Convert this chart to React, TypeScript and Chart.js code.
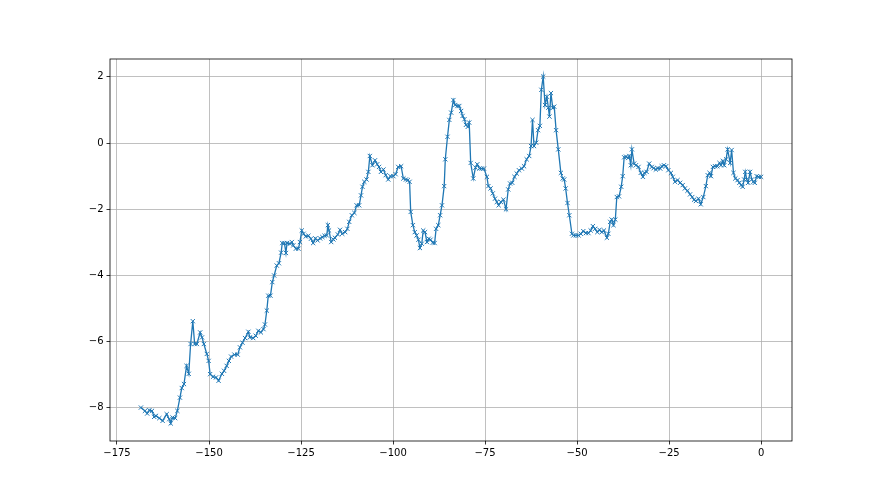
import React, { useEffect, useRef } from "react";
import { Chart, registerables } from "chart.js";

Chart.register(...registerables);

const xValues: number[] = [
  -168.5, -167.4, -166.8, -166.2, -165.5, -164.9, -164.4, -163.5, -162.6, -161.5,
  -160.8, -160.4, -159.9, -159.2, -158.6, -157.9, -157.4, -156.8, -156.1, -155.5,
  -155.0, -154.4, -153.9, -153.3, -152.4, -151.9, -151.4, -150.6, -150.1, -149.7,
  -148.9, -148.1, -147.4, -146.5, -145.9, -145.2, -144.6, -144.0, -143.1, -142.2,
  -141.6, -140.9, -140.2, -139.3, -138.9, -138.0, -137.3, -136.6, -135.9, -135.2,
  -134.8, -134.3, -133.9, -133.3, -132.8, -132.3, -131.6, -131.0, -130.4, -130.1,
  -129.5, -129.1, -128.8, -128.0, -127.5, -127.1, -126.4, -125.7, -125.3, -124.8,
  -124.3, -123.7, -123.0, -122.3, -121.7, -121.1, -120.5, -119.8, -119.2, -118.6,
  -118.0, -117.7, -117.4, -116.8, -116.2, -115.8, -115.0, -114.4, -113.8, -113.0,
  -112.4, -111.9, -111.2, -110.5, -109.9, -109.2, -108.7, -108.3, -107.8, -107.2,
  -106.7, -106.3, -105.6, -104.9, -104.3, -103.8, -103.3, -102.6, -102.0, -101.3,
  -100.7, -99.9, -99.3, -98.6, -97.8, -97.2, -96.5, -96.0, -95.5, -95.2,
  -94.6, -94.1, -93.6, -93.1, -92.7, -92.2, -91.8, -91.3, -90.8, -90.3,
  -89.8, -89.2, -88.7, -88.3, -87.7, -87.2, -86.7, -86.1, -85.8, -85.2,
  -84.7, -84.2, -83.6, -83.1, -82.5, -82.0, -81.5, -81.1, -80.6, -80.2,
  -79.7, -79.3, -78.9, -78.2, -77.6, -77.1, -76.5, -75.9, -75.3, -74.5,
  -74.1, -73.5, -72.9, -72.3, -71.8, -71.3, -70.7, -70.0, -69.3, -68.7,
  -68.2, -67.6, -67.0, -66.4, -65.8, -65.0, -64.4, -63.7, -63.0, -62.5,
  -62.1, -61.7, -61.1, -60.6, -60.1, -59.7, -59.2, -58.7, -58.2, -57.8,
  -57.5, -57.1, -56.6, -56.2, -55.7, -55.1, -54.4, -53.9, -53.5, -53.1,
  -52.6, -52.1, -51.4, -51.0, -50.3, -49.6, -49.0, -48.3, -47.6, -46.9,
  -46.3, -45.7, -45.1, -44.5, -43.9, -43.3, -42.7, -41.9, -41.5, -41.0,
  -40.6, -40.1, -39.6, -39.2, -38.6, -38.0, -37.6, -37.2, -36.7, -36.1,
  -35.8, -35.4, -35.1, -34.5, -34.0, -33.3, -32.7, -32.1, -31.7, -31.1,
  -30.4, -29.7, -29.2, -28.6, -28.1, -27.4, -27.0, -26.4, -25.8, -25.2,
  -24.5, -24.0, -23.4, -22.7, -22.0, -21.3, -20.7, -20.0, -19.3, -18.7,
  -18.2, -17.7, -17.0, -16.4, -15.7, -15.0, -14.5, -14.0, -13.6, -13.1,
  -12.5, -11.9, -11.3, -10.9, -10.4, -10.0, -9.5, -9.1, -8.4, -8.0,
  -7.5, -7.0, -6.4, -5.9, -5.4, -5.0, -4.6, -4.3, -3.9, -3.5,
  -3.0, -2.5, -2.1, -1.7, -1.2, -0.6, 0.0,
];

const yValues: number[] = [
  -7.99, -8.09, -8.17, -8.07, -8.09, -8.27, -8.24, -8.31, -8.39, -8.19,
  -8.34, -8.47, -8.29, -8.31, -8.09, -7.69, -7.40, -7.28, -6.73, -6.97,
  -6.07, -5.38, -6.07, -6.07, -5.72, -5.87, -6.07, -6.37, -6.58, -6.98,
  -7.06, -7.08, -7.18, -6.97, -6.88, -6.73, -6.58, -6.45, -6.39, -6.39,
  -6.17, -6.03, -5.89, -5.70, -5.87, -5.89, -5.82, -5.67, -5.72, -5.62,
  -5.48, -5.06, -4.61, -4.61, -4.20, -4.00, -3.70, -3.63, -3.31, -3.02,
  -3.02, -3.32, -3.02, -3.04, -2.99, -3.09, -3.19, -3.19, -2.99, -2.64,
  -2.74, -2.82, -2.80, -2.89, -3.02, -2.88, -2.94, -2.88, -2.84, -2.80,
  -2.79, -2.48, -2.64, -2.99, -2.91, -2.86, -2.76, -2.62, -2.74, -2.69,
  -2.59, -2.38, -2.18, -2.11, -1.88, -1.88, -1.58, -1.32, -1.17, -1.10,
  -0.87, -0.39, -0.67, -0.52, -0.64, -0.72, -0.87, -0.80, -0.97, -1.10,
  -1.00, -1.00, -0.94, -0.72, -0.70, -1.07, -1.10, -1.12, -1.17, -2.08,
  -2.48, -2.69, -2.79, -2.92, -3.17, -3.04, -2.64, -2.69, -2.99, -2.89,
  -2.92, -3.01, -3.02, -2.59, -2.48, -2.18, -1.88, -1.30, -0.49, 0.19,
  0.70, 0.92, 1.30, 1.15, 1.12, 1.12, 0.97, 0.82, 0.72, 0.55,
  0.49, 0.62, -0.60, -1.07, -0.74, -0.64, -0.77, -0.77, -0.77, -1.02,
  -1.30, -1.37, -1.52, -1.68, -1.78, -1.88, -1.78, -1.71, -2.00, -1.40,
  -1.22, -1.20, -1.02, -0.92, -0.82, -0.77, -0.70, -0.49, -0.39, -0.09,
  0.70, -0.09, 0.01, 0.39, 0.52, 1.61, 2.01, 1.15, 1.40, 1.07,
  0.80, 1.51, 1.06, 1.10, 0.39, -0.19, -0.90, -1.07, -1.10, -1.37,
  -1.81, -2.18, -2.74, -2.79, -2.79, -2.79, -2.74, -2.66, -2.72, -2.72,
  -2.64, -2.51, -2.59, -2.69, -2.62, -2.69, -2.64, -2.86, -2.74, -2.38,
  -2.31, -2.48, -2.31, -1.63, -1.61, -1.32, -1.00, -0.43, -0.41, -0.45,
  -0.39, -0.67, -0.19, -0.62, -0.67, -0.72, -0.90, -1.02, -0.90, -0.87,
  -0.62, -0.72, -0.76, -0.80, -0.76, -0.77, -0.70, -0.67, -0.70, -0.82,
  -0.90, -1.02, -1.17, -1.12, -1.20, -1.27, -1.37, -1.44, -1.55, -1.63,
  -1.71, -1.75, -1.68, -1.85, -1.63, -1.30, -0.97, -0.90, -1.00, -0.72,
  -0.70, -0.70, -0.60, -0.67, -0.54, -0.67, -0.49, -0.19, -0.60, -0.21,
  -0.90, -1.07, -1.12, -1.20, -1.27, -1.32, -1.10, -0.87, -1.10, -1.20,
  -0.87, -1.10, -1.17, -1.20, -1.00, -1.02, -1.02,
];

const xTicks: number[] = [-175, -150, -125, -100, -75, -50, -25, 0];
const yTicks: number[] = [-8, -6, -4, -2, 0, 2];

const fmt = (v: number) => (v < 0 ? "\u2212" + Math.abs(v) : String(v));

const framePlugin = {
  id: "frame",
  afterDraw(chart: any) {
    const { ctx, chartArea } = chart;
    ctx.save();
    ctx.strokeStyle = "#000";
    ctx.lineWidth = 0.8;
    ctx.strokeRect(
      chartArea.left,
      chartArea.top,
      chartArea.right - chartArea.left,
      chartArea.bottom - chartArea.top
    );
    ctx.restore();
  },
};

export default function App() {
  const ref = useRef<HTMLCanvasElement | null>(null);

  useEffect(() => {
    if (!ref.current) return;
    const data = xValues.map((x, i) => ({ x, y: yValues[i] }));
    const font = { family: "DejaVu Sans", size: 10 };
    const chart = new Chart(ref.current, {
      type: "line",
      data: {
        datasets: [
          {
            data,
            borderColor: "#1f77b4",
            backgroundColor: "#1f77b4",
            borderWidth: 1.3,
            tension: 0,
            fill: false,
            pointStyle: "crossRot",
            pointRadius: 3,
            pointBorderWidth: 1,
            pointBorderColor: "#1f77b4",
            pointHoverRadius: 3,
          },
        ],
      },
      options: {
        responsive: false,
        animation: false,
        events: [],
        layout: { padding: { left: 0, top: 59, right: 88, bottom: 0 } },
        plugins: { legend: { display: false }, tooltip: { enabled: false } },
        scales: {
          x: {
            type: "linear",
            min: -176.9,
            max: 8.4,
            afterBuildTicks: (scale: any) => {
              scale.ticks = xTicks.map((v) => ({ value: v }));
            },
            afterFit: (scale: any) => {
              scale.height = 54;
            },
            ticks: {
              font,
              color: "#000",
              padding: 3,
              maxRotation: 0,
              autoSkip: false,
              callback: (v: any) => fmt(Number(v)),
            },
            grid: {
              color: "#b0b0b0",
              lineWidth: 0.8,
              tickColor: "#000",
              tickLength: 3.5,
              tickWidth: 0.8,
            },
            border: { display: false },
          },
          y: {
            type: "linear",
            min: -9.0,
            max: 2.54,
            afterBuildTicks: (scale: any) => {
              scale.ticks = yTicks.map((v) => ({ value: v }));
            },
            afterFit: (scale: any) => {
              scale.width = 110;
            },
            ticks: {
              font,
              color: "#000",
              padding: 3,
              autoSkip: false,
              callback: (v: any) => fmt(Number(v)),
            },
            grid: {
              color: "#b0b0b0",
              lineWidth: 0.8,
              tickColor: "#000",
              tickLength: 3.5,
              tickWidth: 0.8,
            },
            border: { display: false },
          },
        },
      },
      plugins: [framePlugin],
    });
    return () => chart.destroy();
  }, []);

  return (
    <div style={{ position: "fixed", left: 0, top: 0, width: 880, height: 495, background: "#fff" }}>
      <canvas ref={ref} width={880} height={495} style={{ display: "block" }} />
    </div>
  );
}
